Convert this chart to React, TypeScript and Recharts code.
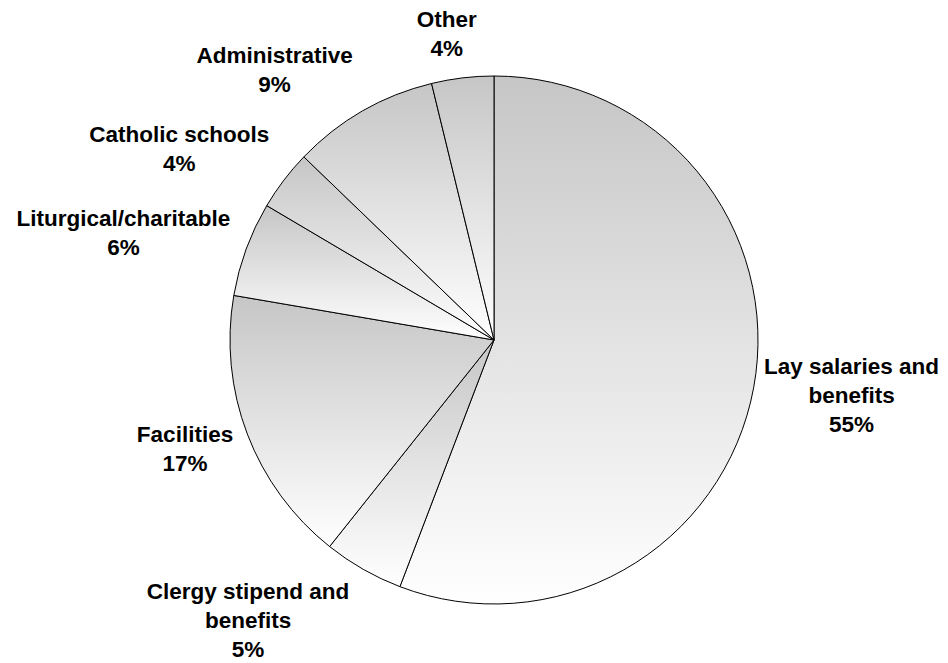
import React from 'react'
import { PieChart, Pie, Cell } from 'recharts'

const categories = [
  'Lay salaries and benefits',
  'Clergy stipend and benefits',
  'Facilities',
  'Liturgical/charitable',
  'Catholic schools',
  'Administrative',
  'Other',
]
// how each label is broken into lines, as in the original
const labelLines = [
  ['Lay salaries and', 'benefits'],
  ['Clergy stipend and', 'benefits'],
  ['Facilities'],
  ['Liturgical/charitable'],
  ['Catholic schools'],
  ['Administrative'],
  ['Other'],
]
const shares = [55.8, 4.9, 17.0, 5.8, 3.7, 9.0, 3.8]
const pctLabels = ['55%', '5%', '17%', '6%', '4%', '9%', '4%']

const data = categories.map((name, i) => ({ name, value: shares[i] }))

// small hand nudges so labels sit where Excel's best-fit put them
const nudges = [
  [2, -3],
  [-60, 4],
  [-8, 1],
  [-13, -3],
  [-25, -8],
  [-44, -8],
  [-11, -6],
]

const FONT = "bold 22.5px 'Liberation Sans', Arial, sans-serif"
const LINE_H = 29
const RAD = Math.PI / 180

let ctx: CanvasRenderingContext2D | null = null
function textWidth(s: string) {
  if (!ctx) ctx = document.createElement('canvas').getContext('2d')
  if (!ctx) return s.length * 12
  ctx.font = FONT
  return ctx.measureText(s).width
}

function renderLabel(props: any) {
  const { cx, cy, midAngle, outerRadius, index } = props
  const lines = [...labelLines[index], pctLabels[index]]
  const w = Math.max(...lines.map(textWidth))
  const h = lines.length * LINE_H
  const cos = Math.cos(-midAngle * RAD)
  const sin = Math.sin(-midAngle * RAD)
  const r = outerRadius + 10
  const ax = cx + r * cos
  const ay = cy + r * sin
  const bx = ax + (cos * w) / 2 + nudges[index][0]
  const by = ay + (sin * h) / 2 + nudges[index][1]
  const first = by + 8 - ((lines.length - 1) * LINE_H) / 2
  return (
    <text
      key={index}
      x={bx}
      y={first}
      textAnchor="middle"
      fill="#000"
      style={{ font: FONT }}
    >
      {lines.map((l, i) => (
        <tspan key={i} x={bx} y={first + i * LINE_H}>
          {l}
        </tspan>
      ))}
    </text>
  )
}

export default function App() {
  return (
    <div style={{ position: 'absolute', left: 0, top: 0, width: 948, height: 663, background: '#fff' }}>
      <PieChart width={948} height={663} margin={{ top: 0, right: 0, bottom: 0, left: 0 }}>
        <defs>
          <linearGradient id="sliceFill" x1="0" y1="0" x2="0" y2="1">
            <stop offset="0%" stopColor="#c6c6c6" />
            <stop offset="100%" stopColor="#ffffff" />
          </linearGradient>
        </defs>
        <Pie
          data={data}
          dataKey="value"
          nameKey="name"
          cx={494}
          cy={340}
          outerRadius={264}
          startAngle={90}
          endAngle={-270}
          stroke="#000"
          strokeWidth={1}
          label={renderLabel}
          labelLine={false}
          isAnimationActive={false}
        >
          {data.map((d) => (
            <Cell key={d.name} fill="url(#sliceFill)" />
          ))}
        </Pie>
      </PieChart>
    </div>
  )
}
